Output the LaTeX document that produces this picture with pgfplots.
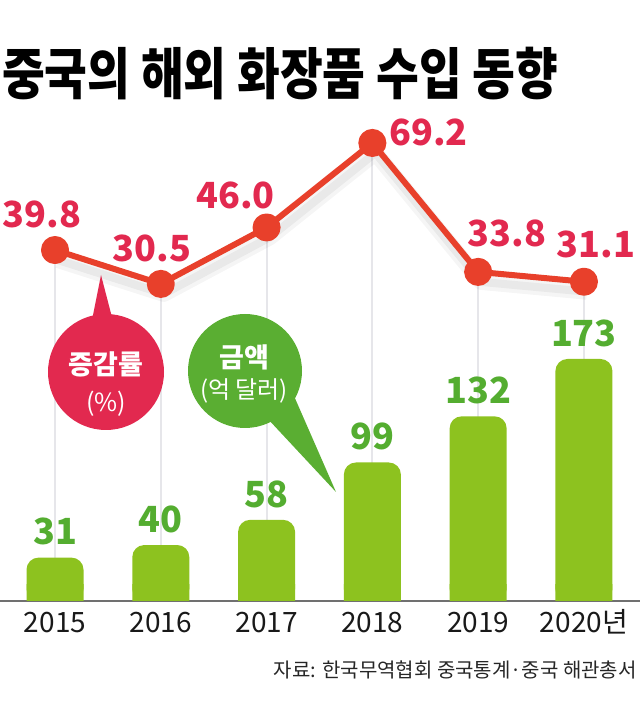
\documentclass[border=0pt]{standalone}
\usepackage{pgfplots}
\pgfplotsset{compat=1.18}
\usepackage{pgfplotstable}
\usepackage{fontspec}
\setmainfont{Noto Sans CJK KR}
\definecolor{lineRed}{HTML}{E8402B}
\definecolor{labelRed}{HTML}{E2294F}
\definecolor{barGreen}{HTML}{8DC21F}
\definecolor{barLabel}{HTML}{54AD30}
\definecolor{bubbleGreen}{HTML}{5AAE32}
\definecolor{gridGray}{HTML}{E6E6EA}
\definecolor{baseGray}{HTML}{707070}

\pgfplotstableread{
x v dx dy
0 39.8 -13 36
1 30.5 -9 35
2 46.0 -31 32
3 69.2 56 11
4 33.8 29 38
5 31.1 12 37
}\ratedata

\pgfplotstableread{
x v
0 31
1 40
2 58
3 99
4 132
5 173
}\amountdata

\begin{document}
\begin{tikzpicture}[x=1pt,y=1pt]
\useasboundingbox (0,0) rectangle (640,704);

% title
\node[anchor=west, inner sep=0] at (2,630)
  {\scalebox{1}[1.2]{\bfseries\fontsize{46.5}{47}\selectfont 중국의 해외 화장품 수입 동향}};

% growth-rate axis (gridlines + line)
\begin{axis}[at={(0pt,309pt)}, anchor=south west, scale only axis,
  width=640pt, height=291.4pt, xmin=-0.52, xmax=5.53, ymin=0, ymax=80,
  hide axis, clip=false, /pgf/number format/assume math mode=true]
  \addplot[gridGray, line width=2pt] coordinates {(0,39.8) (0,-56.5)};
  \addplot[gridGray, line width=2pt] coordinates {(1,30.5) (1,-56.5)};
  \addplot[gridGray, line width=2pt] coordinates {(2,46.0) (2,-56.5)};
  \addplot[gridGray, line width=2pt] coordinates {(3,69.2) (3,-56.5)};
  \addplot[gridGray, line width=2pt] coordinates {(4,33.8) (4,-56.5)};
  \addplot[gridGray, line width=2pt] coordinates {(5,31.1) (5,-56.5)};
  \addplot[black, opacity=0.04, line width=16pt, xshift=3pt, yshift=-10pt, line join=round] table[x=x,y=v]{\ratedata};
  \addplot[black, opacity=0.05, line width=8pt, xshift=3pt, yshift=-10pt, line join=round] table[x=x,y=v]{\ratedata};
  \addplot[lineRed, line width=6pt, line join=round,
    mark=*, mark size=11pt, mark options={fill=lineRed, draw=none},
    visualization depends on={\thisrow{dx} \as \dx},
    visualization depends on={\thisrow{dy} \as \dy},
    nodes near coords={\pgfmathprintnumber[fixed,fixed zerofill,precision=1]{\pgfplotspointmeta}},
    every node near coord/.append style={anchor=center, inner sep=0pt,
      xshift=\dx pt, yshift=\dy pt, text=labelRed,
      font=\bfseries\fontsize{36}{36}\selectfont}]
    table[x=x,y=v]{\ratedata};
\end{axis}

% amount axis (bars)
\begin{axis}[at={(0pt,103pt)}, anchor=south west, scale only axis,
  width=640pt, height=279.8pt, xmin=-0.52, xmax=5.53, ymin=0, ymax=200,
  axis x line=bottom, axis y line=none,
  x axis line style={-, color=baseGray, line width=1.3pt},
  xtick={0,1,2,3,4,5}, major tick length=0pt,
  xticklabels={2015,2016,2017,2018,2019,2020년},
  xticklabel style={anchor=base, inner sep=0pt, yshift=-32pt, text=black!90,
    font=\fontsize{28}{28}\selectfont},
  ytick=\empty, clip=false,
  /pgf/number format/assume math mode=true]
  \addplot[ybar, bar width=57pt, bar shift=0pt, fill=barGreen, draw=none,
    rounded corners=12pt,
    nodes near coords,
    every node near coord/.append style={anchor=south, inner sep=0pt,
      yshift=12pt, text=barLabel, font=\bfseries\fontsize{36}{36}\selectfont}]
    table[x=x,y=v]{\amountdata};
  \addplot[ybar, bar width=57pt, bar shift=0pt, fill=barGreen, draw=none, forget plot]
    coordinates {(0,12) (1,12) (2,12) (3,12) (4,12) (5,12)};
\end{axis}

% red bubble
\fill[labelRed] (106,332) circle (58);
\fill[labelRed] (101,429) -- (91,379) -- (114,379) -- cycle;
\node[text=white, inner sep=0] at (106,340) {\bfseries\fontsize{27}{27}\selectfont 증감률};
\node[text=white, inner sep=0] at (106,300) {\fontsize{25}{25}\selectfont (\%)};

% green bubble
\fill[bubbleGreen] (245,333) circle (57);
\fill[bubbleGreen] (336,212) -- (267,286) -- (294,308) -- cycle;
\node[text=white, inner sep=0] at (244,347) {\bfseries\fontsize{27}{27}\selectfont 금액};
\node[text=white, inner sep=0] at (244,313) {\fontsize{24}{24}\selectfont (억 달러)};

% source
\node[anchor=east, inner sep=0, text=black!85] at (637,34)
  {\fontsize{20}{20}\selectfont 자료: 한국무역협회 중국통계·중국 해관총서};
\end{tikzpicture}
\end{document}
